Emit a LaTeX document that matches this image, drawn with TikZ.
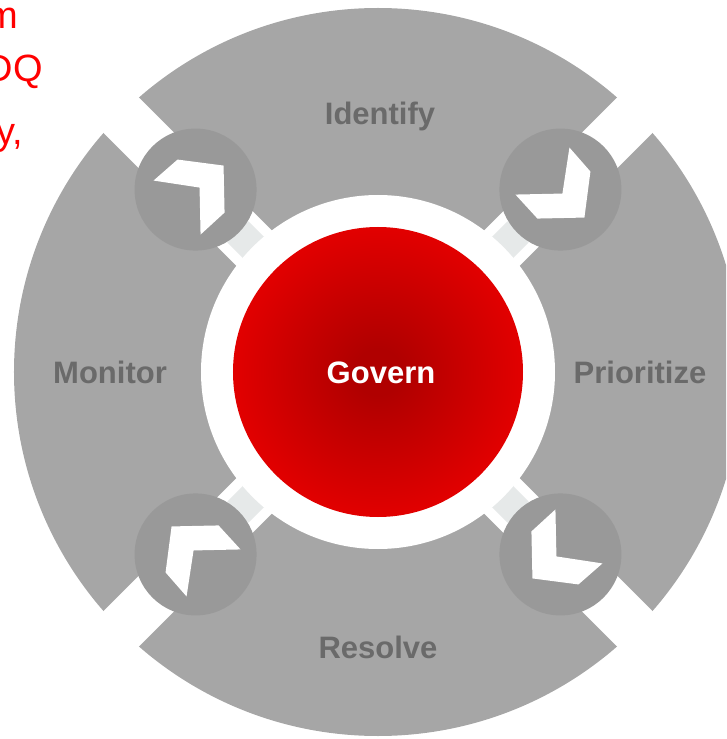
\documentclass[tikz,border=0pt]{standalone}
\usepackage{fontspec}
\setmainfont{Liberation Sans}
\usetikzlibrary{shapes, positioning}
\definecolor{ringgray}{HTML}{A6A6A6}
\definecolor{knobgray}{HTML}{999999}
\definecolor{labelgray}{HTML}{6A6A6A}
\definecolor{linkgray}{HTML}{E6E9E9}
\definecolor{redcore}{HTML}{B00000}
\definecolor{rededge}{HTML}{F00000}
\pgfdeclareradialshading{governshade}{\pgfpoint{0bp}{0bp}}{color(0bp)=(redcore); color(4bp)=(redcore); color(31bp)=(rededge); color(50bp)=(rededge)}
\begin{document}
\begin{tikzpicture}[x=1pt, y=1pt]
 \tikzstyle{knob} = [circle, fill=knobgray, inner sep=0, minimum size=122]
 \tikzstyle{link} = [rectangle, fill=linkgray, inner sep=0, minimum width=30, minimum height=22]
 \tikzstyle{chevron} = [fill=white]
 \tikzstyle{step label} = [text=labelgray, font=\fontsize{31}{37}\selectfont\bfseries, inner sep=0, anchor=base]
 \tikzstyle{cutoff} = [text=red, font=\fontsize{38}{45}\selectfont, inner sep=0, anchor=base east]
 \useasboundingbox (-378,-367) rectangle (348,372);
 \begin{scope}
 \clip (-378,-367) rectangle (348,372);
   \fill[ringgray] (0,0) circle (364);
   % white gaps between the four segments
   \fill[white, rotate=45] (-380,-25) rectangle (380,25);
   \fill[white, rotate=-45] (-380,-25) rectangle (380,25);
   \node[link, rotate=45] (lnw) at (135:187) {};
   \node[link, rotate=-45] (lne) at (45:187) {};
   \node[link, rotate=45] (lse) at (-45:187) {};
   \node[link, rotate=-45] (lsw) at (-135:187) {};
   \node[circle, fill=white, inner sep=0, minimum size=354] (hub) at (0,0) {};
   \node[circle, shading=governshade, inner sep=0, minimum size=290] (core) at (hub) {};
   \node[knob] (knw) at (135:258) {};
   \node[knob] (kne) at (45:258) {};
   \node[knob] (kse) at (-45:258) {};
   \node[knob] (ksw) at (-135:258) {};
   \fill[chevron, shift={(knw)}] (-42,9) -- (-18,30) -- (28,24) -- (29,-23) -- (5,-45) -- (4,2) -- cycle;
   \fill[chevron, shift={(kne)}, rotate=-90] (-42,9) -- (-18,30) -- (28,24) -- (29,-23) -- (5,-45) -- (4,2) -- cycle;
   \fill[chevron, shift={(kse)}, rotate=180] (-42,9) -- (-18,30) -- (28,24) -- (29,-23) -- (5,-45) -- (4,2) -- cycle;
   \fill[chevron, shift={(ksw)}, rotate=90] (-42,9) -- (-18,30) -- (28,24) -- (29,-23) -- (5,-45) -- (4,2) -- cycle;
   \node[step label] (identify) at (2,247) {Identify};
   \node[step label] (prioritize) at (262,-11) {Prioritize};
   \node[step label] (resolve) at (0,-286) {Resolve};
   \node[step label] (monitor) at (-268,-11) {Monitor};
   \node[step label, text=white] (govern) at (3,-11) {Govern};
   % text running off the left edge
   \node[cutoff] (line1) at (-360,343) {m};
   \node[cutoff] (line2) at (-335,290) {DQ};
   \node[cutoff] (line3) at (-355,227) {y,};
 \end{scope}
\end{tikzpicture}
\end{document}
